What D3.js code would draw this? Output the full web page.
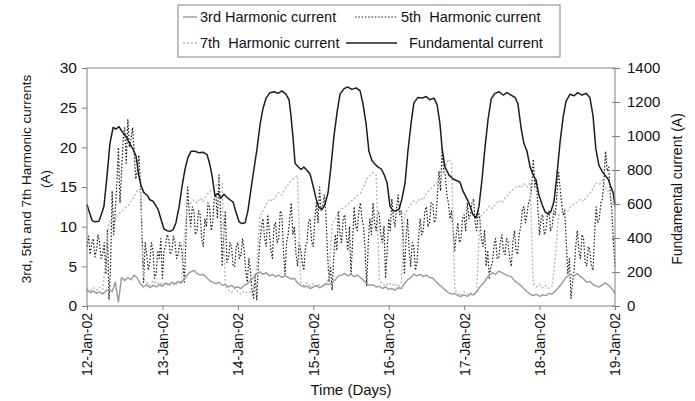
<!DOCTYPE html>
<html>
<head>
<meta charset="utf-8">
<script src="https://cdn.jsdelivr.net/npm/d3@7"></script>
<style>
body{margin:0;background:#fff;}
text{font-family:Arial,"Liberation Sans",sans-serif;fill:#111;}
</style>
</head>
<body>
<div class="canvas"></div>
<script>
// data, hours counted from 12-Jan-02 00:00
var startDate = new Date(2002,0,12),
    endDate = new Date(2002,0,19);
var dayTicks = d3.timeDay.range(startDate, d3.timeDay.offset(endDate,1));
var leftTicks = [0,5,10,15,20,25,30];
var rightTicks = [0,200,400,600,800,1000,1200,1400];

// fundamental current (A), irregular readings
var fundHours = [0,0.6,1.6,2.5,3.8,4.8,5.4,6.4,7.3,8.3,9.2,10.2,11.1,12.4,13.4,14.6,15.6,16.5,17.2,18.1,19.1,20,21,22,22.6,23.5,24.5,25.5,26.4,27.4,28.3,29.3,30.2,31.2,32.1,33.1,34.4,35.6,36.9,38.2,39.1,39.8,40.7,41.7,42.6,43.6,44.5,45.5,46.5,47.4,48.4,49.3,50.3,51.2,52.2,53.1,54.1,55.1,56,57,58.2,59.5,60.8,62,63.3,64.3,64.9,65.6,66.2,67.1,68.1,69,70,71,71.9,72.9,73.8,74.8,75.7,76.7,77.6,78.6,79.6,80.5,81.8,83,84.3,85.6,86.9,87.8,88.8,89.7,90.7,91.6,92.6,93.6,94.5,95.5,96.4,97.4,98.3,99.3,100.2,101.2,102.1,103.1,104,105.3,106.6,107.9,109.1,110.4,111.4,112.3,113,113.9,115.2,116.5,117.7,118.7,119.6,120.9,121.9,122.8,123.8,124.7,125.7,126.6,127.6,128.6,129.8,131.1,132.4,133.6,134.9,136.2,137.1,138.1,139,140,141,141.9,142.9,143.8,144.8,145.7,146.7,147.6,148.6,149.5,150.5,151.5,152.4,153.7,155,156.2,157.5,158.8,160,161,161.9,162.9,163.9,164.8,165.8,166.7,167.4,168];
var fundAmps = [597,560,504,495,499,551,588,770,957,1050,1041,1055,1027,999,961,924,882,765,709,667,653,625,616,588,569,513,453,443,439,448,490,583,700,807,873,910,910,901,905,891,831,765,649,663,635,658,639,625,611,551,495,485,490,560,691,803,924,1073,1162,1223,1255,1260,1251,1265,1246,1213,1120,980,840,821,803,817,798,775,709,630,579,569,597,667,817,1003,1143,1246,1279,1288,1274,1283,1265,1190,1073,910,854,835,817,807,775,723,588,560,560,569,630,723,910,1073,1195,1227,1223,1232,1213,1223,1185,1073,924,817,770,747,737,728,677,630,588,537,518,583,747,924,1097,1218,1251,1260,1241,1255,1241,1227,1190,1050,957,910,817,775,737,653,597,555,541,555,616,765,961,1111,1204,1246,1237,1255,1241,1251,1227,1120,924,826,793,770,747,700,667,597];

// 3rd and 7th harmonic currents (A), one reading per hour, hour 0..168
var h3 = [2.0,1.7,1.9,1.6,1.8,1.5,1.9,2.1,1.8,3.0,0.5,3.6,3.2,3.6,3.3,3.9,3.5,2.8,2.4,2.7,2.3,2.6,2.4,2.7,2.5,2.9,2.7,3.0,2.8,3.1,2.9,3.4,4.0,4.3,4.5,4.1,3.9,4.0,3.6,3.2,3.0,2.8,3.0,2.6,2.7,2.4,2.6,2.3,2.4,2.2,2.6,2.8,3.2,3.6,4.1,4.3,4.0,4.2,3.8,4.0,3.7,3.9,3.6,3.8,3.6,3.4,3.5,2.9,2.6,2.4,2.5,2.2,2.4,2.6,2.3,2.5,2.8,2.7,3.0,3.3,3.8,3.9,4.1,3.8,4.0,3.7,3.9,3.6,3.2,2.8,2.6,2.7,2.4,2.5,2.2,2.4,2.1,2.2,2.0,2.3,2.2,2.8,3.3,3.6,4.0,3.8,4.0,3.7,3.9,3.6,3.5,3.1,2.7,2.4,2.0,1.7,1.5,1.6,1.3,1.2,1.4,1.2,1.5,1.4,1.8,2.4,2.8,3.4,3.9,4.2,4.0,4.4,4.2,4.0,3.8,3.7,3.2,2.9,2.6,2.2,1.8,1.5,1.3,1.5,1.2,1.4,1.3,1.6,1.5,1.9,2.3,2.8,3.4,3.8,4.0,3.8,4.1,3.7,3.4,3.0,3.1,2.7,2.5,2.4,2.7,2.9,2.6,2.2,1.6];
var h7 = [2.2,1.9,2.3,2.0,2.4,2.1,6,10.5,11.0,10.8,11.6,11.9,12.3,12.6,13.2,13.8,14.5,14.8,3.5,3.0,2.6,3.2,2.8,3.0,2.6,2.9,2.5,2.8,2.6,3.0,2.8,9,12.5,13.0,13.4,13.0,13.6,13.2,14.0,14.4,14.8,15.2,15.6,15.5,2.6,2.0,1.7,2.2,1.8,1.5,1.9,1.6,1.8,2.2,5,11.3,12.0,12.8,13.5,13.2,13.8,14.3,14.0,14.8,15.3,15.8,16.2,16.4,3.0,2.6,2.9,2.5,2.8,2.4,2.7,2.5,2.9,3.5,10.5,11.0,11.8,12.2,12.5,12.8,13.2,13.5,13.9,14.2,15.0,16.0,16.4,16.8,16.5,3.2,2.8,2.5,2.9,2.6,2.8,2.4,3.0,11.5,12.2,12.8,13.3,13.0,13.6,13.4,14.2,14.6,15.0,15.4,15.9,16.5,17.5,18.5,18.0,2.0,1.6,1.3,1.8,1.5,1.7,1.4,1.9,11.0,11.7,12.0,12.6,12.3,12.9,13.3,13.0,13.6,14.0,14.6,14.8,15.2,14.9,15.4,15.0,15.6,2.8,2.4,2.7,2.3,2.6,2.2,2.5,6,11.3,11.8,12.2,12.0,12.6,12.9,13.1,13.5,13.2,13.8,14.2,14.8,15.5,15.3,15.8,14.9,14.3,13.5,12.5];

// 5th harmonic current (A), one reading per half hour, hour 0..168
var h5 = [7.5,8.8,6.5,7.8,8.5,6.2,7,9,8,6,6.5,8,4,9.5,0.8,5,14.5,9,12,15.5,
    20,13,17,21,22.5,18,23.5,20,21,22.5,19.5,16,17,19,15.5,9,3,8,6.5,4.5,
    5.5,8,7,3.5,4,7,6,8.5,3.5,7,7.5,9,8.5,6.5,7,8.8,8,6,6.5,8,
    7.5,5.5,3,9,15,12,10,12.5,12,9,9.5,12,11.5,8.5,7.5,11,10,13,12.5,9.5,
    10.5,13.5,14,11,16.5,12,5,9,12,5.5,6,8,7.5,5,5,7.5,8,6,6.5,8.5,
    7,4.5,3,6,4.5,2,1,4,0.8,5,8,10,11,8.5,7.5,11.5,9.5,7,6,10,
    10.5,8,8.5,12,11.5,7,4,8,9,11,13,9,10,6.5,5,8,7,5.5,4.5,7.5,
    8,10.5,11,8,7.5,11,13,10.5,15,12,12.5,14,11.5,7,3,5,2,6,9,7,
    12,9,8,11,11.5,9,7,10,4,8,12.5,10,9.5,12,13,11,10,7,2.5,8,
    11,9,13,10.5,9.5,12,11.5,9,8,10,3.5,7,11,9.5,13.5,11,10,12.5,14,11.5,
    12,9,4,8.5,11,7,5,8,7.5,4.5,5.5,8.5,11,9,9.5,12,12.5,10,10.5,13,
    13,10.5,11,14,17,14.5,20,17,16.5,14,13,11,12,9.5,7,9,10.5,8,8.5,11,
    11.5,9.5,13,11,11.5,13,13.5,10.5,9.5,12,11,8.5,7.5,9.5,5,7,3.5,5,5.5,7.5,
    8.5,6,6,8,9,7,6.5,8.5,8,6,5,8,9.5,7,6.5,9,10,12,12.5,10.5,
    11.5,13,13.5,15,18.5,15,16,12,9,11,11.5,9,9.5,11.5,12,9.5,10,12,11.5,14,
    17,15,13,11.5,12,8,4,6,1,3,4.5,7.5,9.5,7,6,9,8.5,5.5,5,7.5,
    7,5,4.5,9,12.5,10.5,11,13,13.5,16,19.5,17,17.5,14,12,8,5];

var legendLabels = ['3rd Harmonic current','5th  Harmonic current','7th  Harmonic current','Fundamental current'];

var pageWidth = 695, pageHeight = 401;
var plot = {l:87, r:615, t:68, b:306};

var svg = d3.select('.canvas')
    .append('svg')
    .attr('width',pageWidth)
    .attr('height',pageHeight);

function hourToDate(h){
    return new Date(startDate.getTime() + h*3600000);
}

var x = d3.scaleTime().domain([startDate,endDate]).range([plot.l,plot.r]);
var yLeft = d3.scaleLinear().domain([0,30]).range([plot.b,plot.t]);
var yRight = d3.scaleLinear().domain([0,1400]).range([plot.b,plot.t]);

// series styles
var styles = {
    h3:{stroke:'#999999', width:1.4, dash:null},
    h5:{stroke:'#1a1a1a', width:1.2, dash:'1.5,1.8'},
    h7:{stroke:'#b8b8b8', width:1.4, dash:'2,2'},
    fund:{stroke:'#1c1c1c', width:1.5, dash:null}
};

function hourlyLine(step){
    return d3.line()
        .x(function(d,i){ return x(hourToDate(i*step)); })
        .y(function(d){ return yLeft(d); });
}

var lineRight = d3.line()
    .x(function(d,i){ return x(hourToDate(fundHours[i])); })
    .y(function(d){ return yRight(d); });

function drawSeries(data, line, st){
    svg.append('path')
        .datum(data)
        .attr('d', line)
        .attr('fill','none')
        .attr('stroke', st.stroke)
        .attr('stroke-width', st.width)
        .attr('stroke-dasharray', st.dash)
        .attr('stroke-linejoin','round');
}

drawSeries(h5, hourlyLine(0.5), styles.h5);
drawSeries(h7, hourlyLine(1), styles.h7);
drawSeries(h3, hourlyLine(1), styles.h3);
drawSeries(fundAmps, lineRight, styles.fund);

// plot frame
svg.append('rect')
    .attr('x',plot.l).attr('y',plot.t)
    .attr('width',plot.r-plot.l).attr('height',plot.b-plot.t)
    .attr('fill','none').attr('stroke','#808080').attr('stroke-width',1);

// left axis
var gLeft = svg.append('g')
    .attr('transform','translate('+plot.l+',0)')
    .call(d3.axisLeft(yLeft).tickValues(leftTicks).tickSize(5).tickPadding(5));
// right axis
var gRight = svg.append('g')
    .attr('transform','translate('+plot.r+',0)')
    .call(d3.axisRight(yRight).tickValues(rightTicks).tickFormat(d3.format('d')).tickSize(5).tickPadding(7));
gRight.selectAll('.tick line').attr('x1',-3);
// bottom axis
var gBottom = svg.append('g')
    .attr('transform','translate(0,'+plot.b+')')
    .call(d3.axisBottom(x).tickValues(dayTicks).tickFormat(d3.timeFormat('%d-%b-%y')).tickSize(4));
gBottom.selectAll('.tick text')
    .attr('transform','rotate(-90)')
    .attr('x',-7).attr('y',0).attr('dy','0.35em')
    .style('text-anchor','end');

[gLeft,gRight,gBottom].forEach(function(g){
    g.select('.domain').remove();
    g.selectAll('.tick line').attr('stroke','#808080');
    g.selectAll('.tick text').attr('fill','#111').style('font-family','Arial,"Liberation Sans",sans-serif');
});
gLeft.selectAll('.tick text').style('font-size','15.5px');
gRight.selectAll('.tick text').style('font-size','15px');
gBottom.selectAll('.tick text').style('font-size','14px');

// axis titles
svg.append('text')
    .attr('transform','translate(31,179) rotate(-90)')
    .attr('text-anchor','middle').style('font-size','13.5px')
    .text('3rd, 5th and 7th Harmonic currents');
svg.append('text')
    .attr('transform','translate(50,179) rotate(-90)')
    .attr('text-anchor','middle').style('font-size','13.5px')
    .text('(A)');
svg.append('text')
    .attr('transform','translate(682,189) rotate(-90)')
    .attr('text-anchor','middle').style('font-size','14px')
    .text('Fundamental current (A)');
svg.append('text')
    .attr('x',351).attr('y',395)
    .attr('text-anchor','middle').style('font-size','15px')
    .text('Time (Days)');

// legend
svg.append('rect')
    .attr('x',178).attr('y',5)
    .attr('width',382).attr('height',52)
    .attr('fill','#fff').attr('stroke','#808080').attr('stroke-width',1);

var legendStyles = [styles.h3, styles.h5, styles.h7, styles.fund];
var sampleX = [[183,197],[355,398],[183,197],[346,397]];
var textX = [200,401,200,409];
var rowY = [17,17,43,43];
legendLabels.forEach(function(label,i){
    var st = legendStyles[i];
    svg.append('line')
        .attr('x1',sampleX[i][0]).attr('x2',sampleX[i][1])
        .attr('y1',rowY[i]).attr('y2',rowY[i])
        .attr('stroke',st.stroke).attr('stroke-width',st.width)
        .attr('stroke-dasharray',st.dash);
    svg.append('text')
        .attr('x',textX[i])
        .attr('y',rowY[i]).attr('dy','0.35em')
        .attr('xml:space','preserve')
        .style('white-space','pre')
        .style('font-size','14.5px')
        .text(label);
});
</script>
</body>
</html>
